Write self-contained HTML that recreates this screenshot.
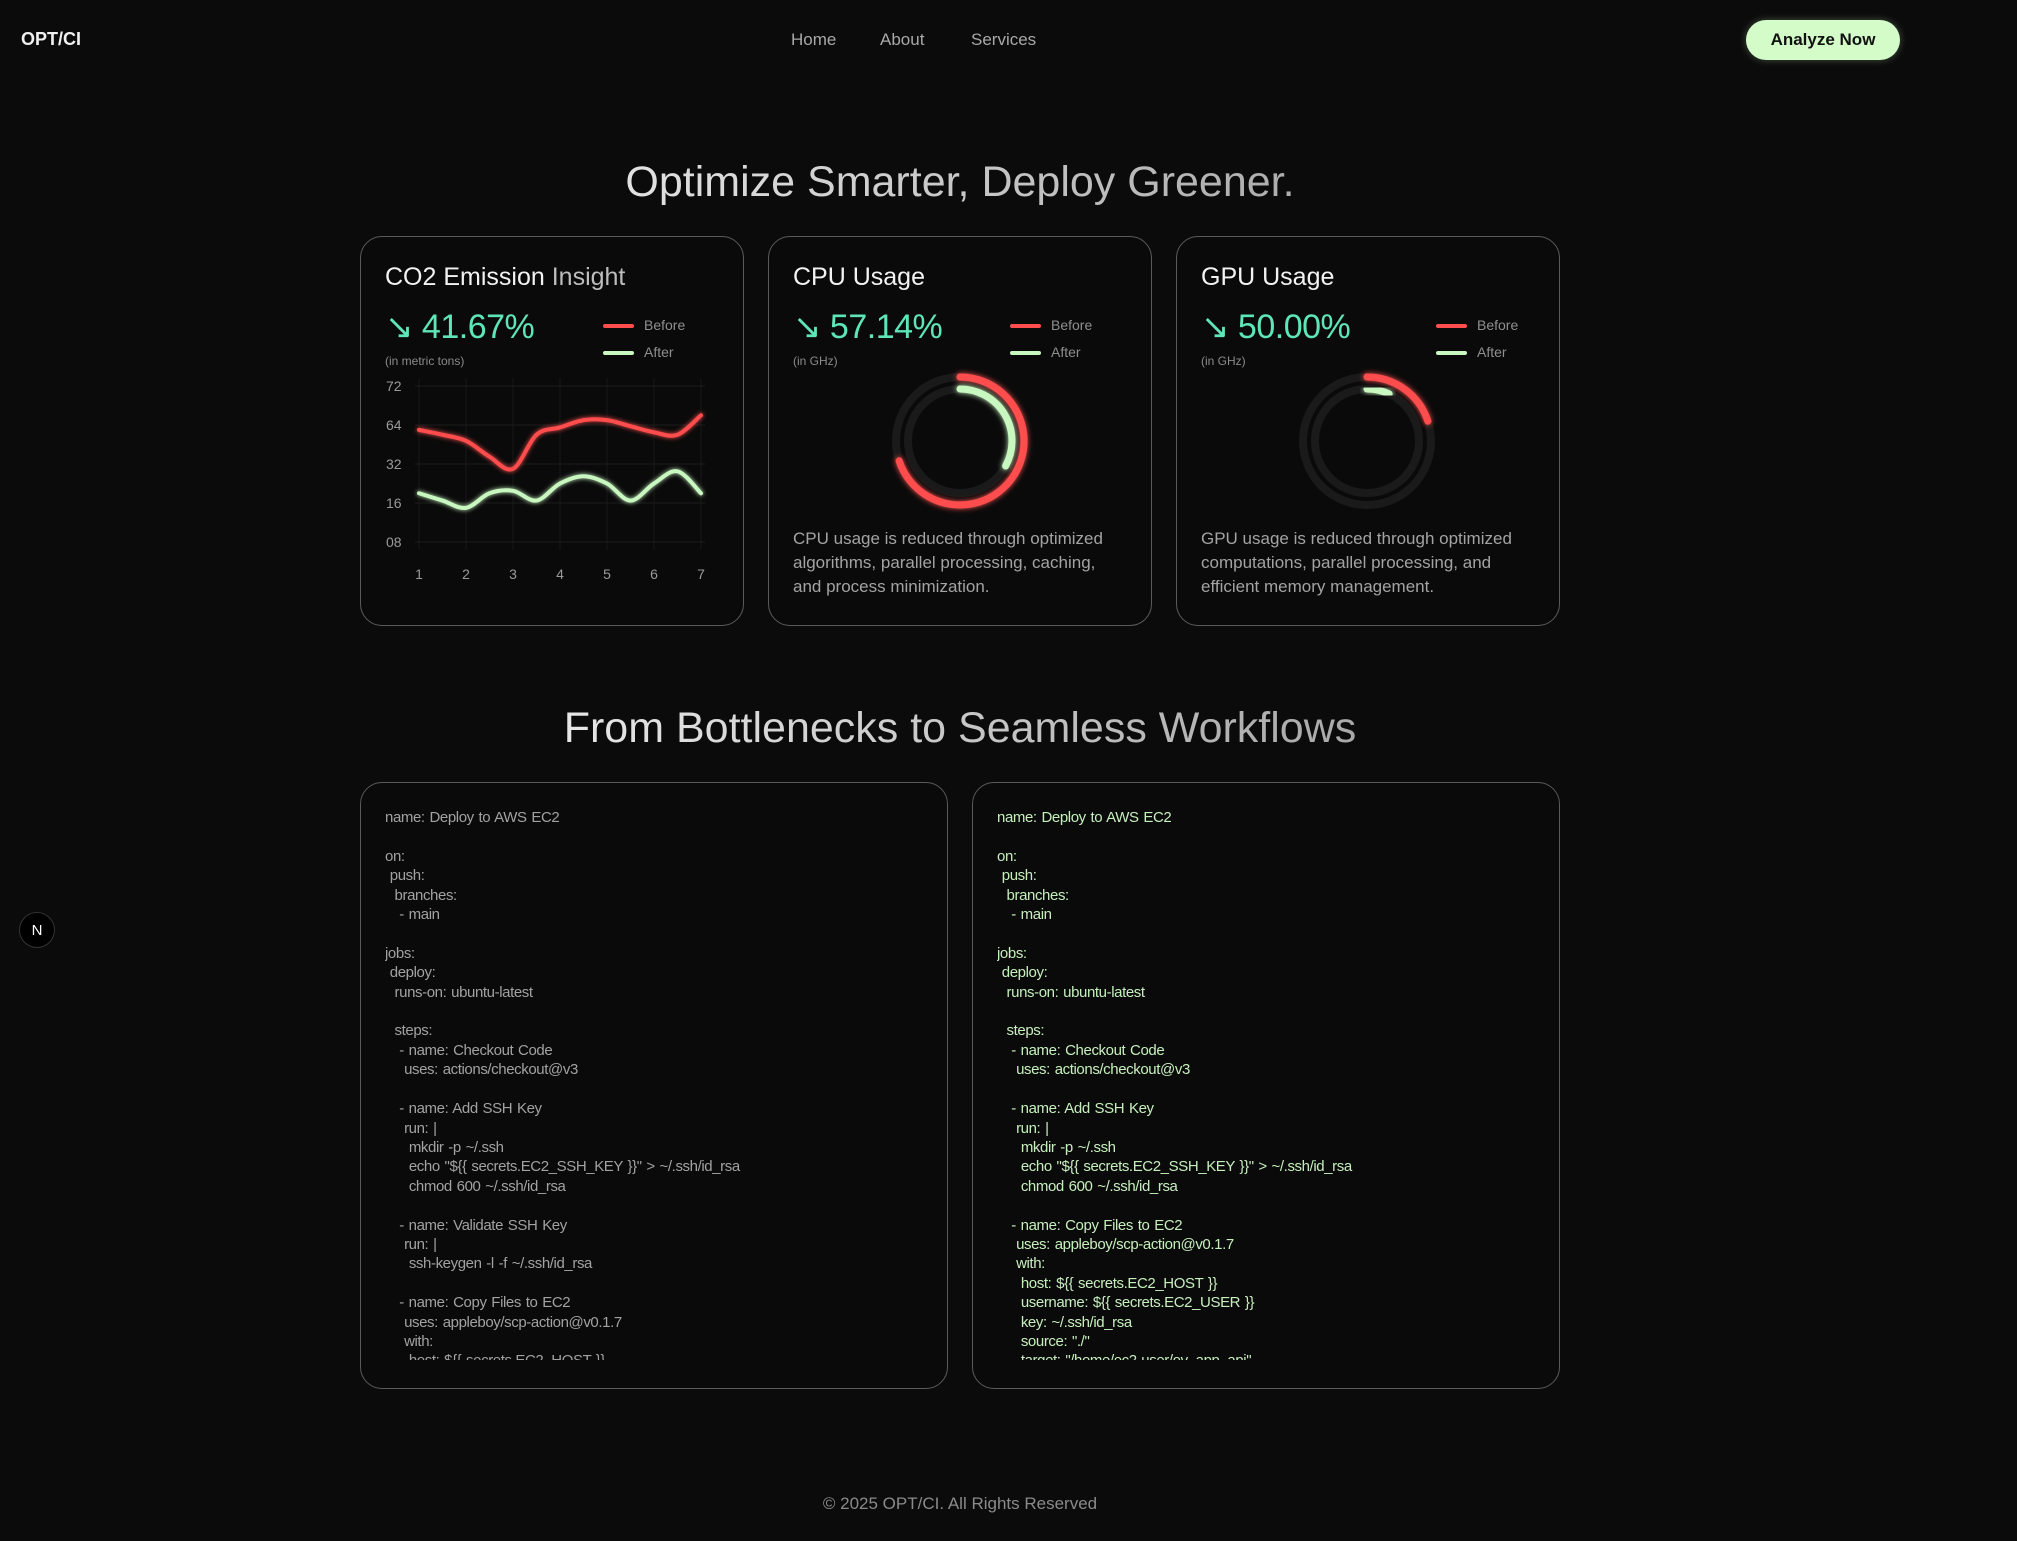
<!DOCTYPE html>
<html><head><meta charset="utf-8">
<style>
html,body{margin:0;padding:0;background:#0b0b0b;width:2017px;height:1541px;overflow:hidden;font-family:"Liberation Sans",sans-serif;}
.a{position:absolute;}
.card{position:absolute;border:1.5px solid #5a5a5a;border-radius:22px;background:#0a0a0a;box-sizing:border-box;}
.title{position:absolute;left:24px;top:26px;font-size:25px;color:#f2f2f2;}
.pct{position:absolute;left:24px;top:70px;font-size:34px;color:#5ee6b8;letter-spacing:-0.5px}
.unit{position:absolute;left:24px;top:117px;font-size:12px;color:#8a8a8a;}
.lg{position:absolute;font-size:14px;color:#8f8f8f;}
.lg i{display:inline-block;width:31px;height:4px;border-radius:2px;vertical-align:middle;margin-right:10px}
.desc{position:absolute;left:24px;top:290px;width:332px;font-size:17px;line-height:24px;color:#a3a3a3;}
.code{position:absolute;left:24px;top:25px;right:20px;height:552px;overflow:hidden;white-space:pre;font-size:15px;line-height:19.4px;letter-spacing:-0.4px;word-spacing:1px}
h2{position:absolute;margin:0;left:0;width:1920px;text-align:center;font-weight:normal;font-size:43px;background:linear-gradient(90deg,#e6e6e6 30%,#9a9a9a 80%);-webkit-background-clip:text;color:transparent;}
</style></head><body>
<div class="a" style="left:21px;top:29px;font-size:18px;font-weight:bold;color:#f0f0f0">OPT/CI</div>
<div class="a" style="left:791px;top:30px;font-size:17px;color:#a8a8a8">Home</div>
<div class="a" style="left:880px;top:30px;font-size:17px;color:#a8a8a8">About</div>
<div class="a" style="left:971px;top:30px;font-size:17px;color:#a8a8a8">Services</div>
<div class="a" style="left:1746px;top:20px;width:154px;height:40px;border-radius:20px;background:#d4fcc9;color:#111;font-size:17px;font-weight:bold;text-align:center;line-height:40px;box-shadow:0 0 8px rgba(200,250,190,.3)">Analyze Now</div>

<h2 style="top:158px">Optimize Smarter, Deploy Greener.</h2>

<div class="card" style="left:360px;top:236px;width:384px;height:390px">
 <div class="title">CO2 Emission <span style="color:#bdbdbd">Insight</span></div>
 <div class="pct">↘ 41.67%</div>
 <div class="unit">(in metric tons)</div>
 <div class="lg" style="left:242px;top:80px"><i style="background:#ff4d4d"></i>Before</div>
 <div class="lg" style="left:242px;top:107px"><i style="background:#c8f7c0"></i>After</div>
</div>
<svg class="a" id="co2chart" style="left:0;top:0" width="2017" height="700">
 <defs><filter id="gl" x="-10%" y="-30%" width="120%" height="160%"><feGaussianBlur stdDeviation="2.5" result="b"/><feMerge><feMergeNode in="b"/><feMergeNode in="SourceGraphic"/></feMerge></filter></defs>
</svg>

<div class="card" style="left:768px;top:236px;width:384px;height:390px">
 <div class="title">CPU Usage</div>
 <div class="pct">↘ 57.14%</div>
 <div class="unit">(in GHz)</div>
 <div class="lg" style="left:241px;top:80px"><i style="background:#ff4d4d"></i>Before</div>
 <div class="lg" style="left:241px;top:107px"><i style="background:#c8f7c0"></i>After</div>
 <div class="desc">CPU usage is reduced through optimized algorithms, parallel processing, caching, and process minimization.</div>
</div>
<div class="card" style="left:1176px;top:236px;width:384px;height:390px">
 <div class="title">GPU Usage</div>
 <div class="pct">↘ 50.00%</div>
 <div class="unit">(in GHz)</div>
 <div class="lg" style="left:259px;top:80px"><i style="background:#ff4d4d"></i>Before</div>
 <div class="lg" style="left:259px;top:107px"><i style="background:#c8f7c0"></i>After</div>
 <div class="desc">GPU usage is reduced through optimized computations, parallel processing, and efficient memory management.</div>
</div>
<svg class="a" id="donuts" style="left:0;top:0" width="2017" height="700">
 <defs><filter id="gl2" x="-30%" y="-30%" width="160%" height="160%"><feGaussianBlur stdDeviation="3" result="b"/><feMerge><feMergeNode in="b"/><feMergeNode in="SourceGraphic"/></feMerge></filter></defs>
</svg>

<h2 style="top:704px">From Bottlenecks to Seamless Workflows</h2>

<div class="card" style="left:360px;top:782px;width:588px;height:607px">
<div class="code" style="color:#a2a2a2">name: Deploy to AWS EC2

on:
 push:
  branches:
   - main

jobs:
 deploy:
  runs-on: ubuntu-latest

  steps:
   - name: Checkout Code
    uses: actions/checkout@v3

   - name: Add SSH Key
    run: |
     mkdir -p ~/.ssh
     echo "${{ secrets.EC2_SSH_KEY }}" > ~/.ssh/id_rsa
     chmod 600 ~/.ssh/id_rsa

   - name: Validate SSH Key
    run: |
     ssh-keygen -l -f ~/.ssh/id_rsa

   - name: Copy Files to EC2
    uses: appleboy/scp-action@v0.1.7
    with:
     host: ${{ secrets.EC2_HOST }}
     username: ${{ secrets.EC2_USER }}</div></div>
<div class="card" style="left:972px;top:782px;width:588px;height:607px">
<div class="code" style="color:#c6efbd">name: Deploy to AWS EC2

on:
 push:
  branches:
   - main

jobs:
 deploy:
  runs-on: ubuntu-latest

  steps:
   - name: Checkout Code
    uses: actions/checkout@v3

   - name: Add SSH Key
    run: |
     mkdir -p ~/.ssh
     echo "${{ secrets.EC2_SSH_KEY }}" > ~/.ssh/id_rsa
     chmod 600 ~/.ssh/id_rsa

   - name: Copy Files to EC2
    uses: appleboy/scp-action@v0.1.7
    with:
     host: ${{ secrets.EC2_HOST }}
     username: ${{ secrets.EC2_USER }}
     key: ~/.ssh/id_rsa
     source: "./"
     target: "/home/ec2-user/ov_app_api"</div></div>

<div class="a" style="left:19px;top:912px;width:36px;height:36px;border-radius:50%;background:#000;border:1px solid #333;color:#fff;font-size:15px;text-align:center;line-height:36px;box-sizing:border-box">N</div>
<div class="a" style="left:0;width:1920px;top:1494px;text-align:center;font-size:17px;color:#8a8a8a">© 2025 OPT/CI. All Rights Reserved</div>

<script>
// CO2 chart data
const xLabels = ['1','2','3','4','5','6','7'];
const yTicks = [8,16,32,64,72];
const yTickLabels = ['08','16','32','64','72'];
const pointX = [1,1.5,2,2.5,3,3.5,4,4.5,5,5.5,6,6.5,7];
const beforeValues = [60,56,51,38,30,56,62,65,65,63,58,56,66];
const afterValues = [20,17,15,20,21,17,24,27,24,17,24,29,20];
// usage data (fractions of full ring)
const cpuBefore = 0.70, cpuAfter = 0.33;
const gpuBefore = 0.20, gpuAfter = 0.07;

const NS='http://www.w3.org/2000/svg';
const svg=document.getElementById('co2chart');
const PL=415,PR=705,PT=378,PB=550;
const yPos0=542, yStep=39;
function xs(v){return 419+(v-1)*(701-419)/6;}
function ys(v){
  for(let i=0;i<yTicks.length-1;i++){
    if(v<=yTicks[i+1]||i===yTicks.length-2){
      const t=(v-yTicks[i])/(yTicks[i+1]-yTicks[i]);
      return yPos0-(i+t)*yStep;
    }
  }
}
function mk(tag,attrs){const e=document.createElementNS(NS,tag);for(const k in attrs)e.setAttribute(k,attrs[k]);return e;}
yTicks.forEach((t,i)=>{
  const l=mk('line',{x1:PL,x2:PR,y1:ys(t),y2:ys(t),stroke:'#1c1c1c','stroke-width':1});
  
  
  svg.appendChild(l);
  const tx=mk('text',{x:386,y:ys(t)+5,fill:'#9a9a9a','font-size':14,'font-family':'Liberation Sans, sans-serif'});
  tx.textContent=yTickLabels[i];
  
  
  svg.appendChild(tx);
});
xLabels.forEach((lab,i)=>{
  const x=xs(i+1);
  const l=mk('line',{x1:x,x2:x,y1:PT,y2:PB,stroke:'#181818','stroke-width':1});
  
  
  svg.appendChild(l);
  const tx=mk('text',{x:x,y:579,fill:'#9a9a9a','font-size':14,'text-anchor':'middle','font-family':'Liberation Sans, sans-serif'});
  tx.textContent=lab;
  
  
  svg.appendChild(tx);
});
function smooth(vals){
  const p=vals.map((v,i)=>[xs(pointX[i]),ys(v)]);
  let d='M'+p[0][0]+','+p[0][1];
  for(let i=0;i<p.length-1;i++){
    const p0=p[i-1]||p[i],p1=p[i],p2=p[i+1],p3=p[i+2]||p2;
    const c1=[p1[0]+(p2[0]-p0[0])/6,p1[1]+(p2[1]-p0[1])/6];
    const c2=[p2[0]-(p3[0]-p1[0])/6,p2[1]-(p3[1]-p1[1])/6];
    d+=' C'+c1+' '+c2+' '+p2;
  }
  return d;
}
const pb=mk('path',{d:smooth(beforeValues),fill:'none',stroke:'#ff4d4d','stroke-width':4,filter:'url(#gl)','stroke-linecap':'round'});


svg.appendChild(pb);
const pa=mk('path',{d:smooth(afterValues),fill:'none',stroke:'#c8f7c0','stroke-width':4,filter:'url(#gl)','stroke-linecap':'round'});


svg.appendChild(pa);

const ds=document.getElementById('donuts');
function arc(cx,cy,r,frac){
  const a=frac*2*Math.PI;
  const x=cx+r*Math.sin(a),y=cy-r*Math.cos(a);
  return 'M'+cx+','+(cy-r)+' A'+r+','+r+' 0 '+(frac>0.5?1:0)+' 1 '+x+','+y;
}
function donut(cx,cy,b,a,name){
  [64,52].forEach(r=>{
    const c=mk('circle',{cx:cx,cy:cy,r:r,fill:'none',stroke:'#1a1a1a','stroke-width':8});
    
    
    ds.appendChild(c);
  });
  const rb=mk('path',{d:arc(cx,cy,64,b),fill:'none',stroke:'#ff4d4d','stroke-width':7,'stroke-linecap':'round',filter:'url(#gl2)'});
  
  
  ds.appendChild(rb);
  const ra=mk('path',{d:arc(cx,cy,52,a),fill:'none',stroke:'#c8f7c0','stroke-width':7,'stroke-linecap':'round',filter:'url(#gl2)'});
  
  
  ds.appendChild(ra);
}
donut(960,441,cpuBefore,cpuAfter,'cpu');
donut(1367,441,gpuBefore,gpuAfter,'gpu');
</script>
</body></html>
